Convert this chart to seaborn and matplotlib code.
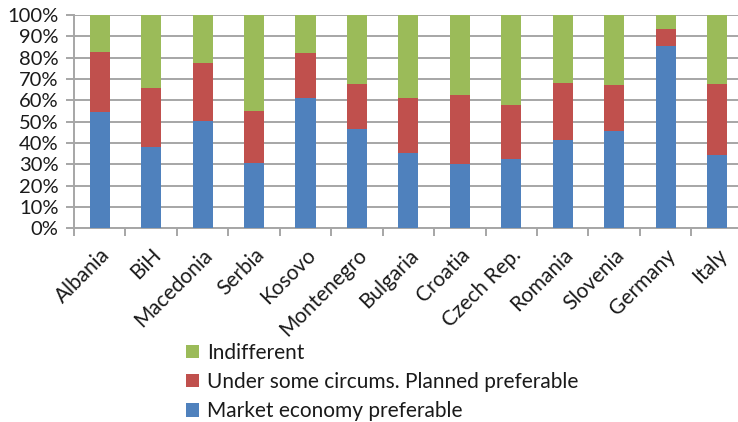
import matplotlib
matplotlib.use("Agg")
import matplotlib.pyplot as plt
from matplotlib.patches import Patch
from matplotlib.ticker import PercentFormatter
import numpy as np
import pandas as pd
import seaborn as sns

countries = ["Albania", "BiH", "Macedonia", "Serbia", "Kosovo", "Montenegro",
             "Bulgaria", "Croatia", "Czech Rep.", "Romania", "Slovenia",
             "Germany", "Italy"]
market = [54.4, 38.1, 50.2, 30.8, 60.9, 46.4, 35.2, 30.2, 32.3, 41.3, 45.6, 85.3, 34.5]
planned = [28.4, 27.5, 27.1, 24.2, 21.4, 21.4, 25.9, 32.5, 25.5, 27.0, 21.6, 8.3, 33.2]
indifferent = [17.2, 34.4, 22.7, 45.0, 17.7, 32.2, 38.9, 37.3, 42.2, 31.7, 32.8, 6.4, 32.3]

series_names = ["Market economy preferable",
                "Under some circums. Planned preferable",
                "Indifferent"]
colors = ["#4F81BD", "#C0504D", "#9BBB59"]

df = pd.DataFrame({"country": countries, "market": market,
                   "planned": planned, "indifferent": indifferent})

sns.set_theme(style="white")
plt.rcParams["font.family"] = ["Lato", "DejaVu Sans"]

fig = plt.figure(figsize=(7.38, 4.22), dpi=100)
ax = fig.add_axes([74 / 738, 1 - 228.3 / 422, (742.7 - 74) / 738, (228.3 - 15) / 422])

# stacked bars: draw cumulative totals from the top segment down
cum_top = df["market"] + df["planned"] + df["indifferent"]
cum_mid = df["market"] + df["planned"]
for heights, col in [(cum_top, colors[2]), (cum_mid, colors[1]), (df["market"], colors[0])]:
    sns.barplot(x=df["country"], y=heights, color=col, width=0.39,
                saturation=1, ax=ax, linewidth=0, zorder=3)

ax.set_ylim(0, 100)
ax.set_xlim(-0.5, len(countries) - 0.5)
ax.set_yticks(np.arange(0, 101, 10))
ax.yaxis.set_major_formatter(PercentFormatter(decimals=0))
ax.set_xlabel("")
ax.set_ylabel("")

grid_col = "#A6A6A6"
text_col = "#1a1a1a"
ax.yaxis.grid(True, color=grid_col, linewidth=1.4, zorder=0)
ax.xaxis.grid(False)
for side in ["top", "right"]:
    ax.spines[side].set_visible(False)
for side in ["left", "bottom"]:
    ax.spines[side].set_color(grid_col)
    ax.spines[side].set_linewidth(1.4)

# category separators as tick marks between bars
ax.set_xticks(np.arange(len(countries)))
ax.set_xticklabels(countries, rotation=45, ha="right", rotation_mode="anchor",
                   fontsize=15, color=text_col)
ax.tick_params(axis="x", length=0, pad=12)
ax.set_xticks(np.arange(-0.5, len(countries), 1), minor=True)
ax.tick_params(axis="x", which="minor", direction="out", length=6,
               width=1.4, color=grid_col, bottom=True)
ax.tick_params(axis="y", direction="out", length=6, width=1.4, color=grid_col,
               labelsize=14.5, labelcolor=text_col, left=True, pad=5)

handles = [Patch(facecolor=colors[i], edgecolor="none") for i in (2, 1, 0)]
labels = [series_names[i] for i in (2, 1, 0)]
fig.legend(handles, labels, loc="upper left", bbox_to_anchor=(186 / 738, 1 - 343 / 422),
           frameon=False, fontsize=15, handlelength=0.6, handleheight=0.6,
           handletextpad=0.4, labelspacing=0.44, borderpad=0, borderaxespad=0,
           labelcolor=text_col)

fig.savefig("out.png", dpi=100)
